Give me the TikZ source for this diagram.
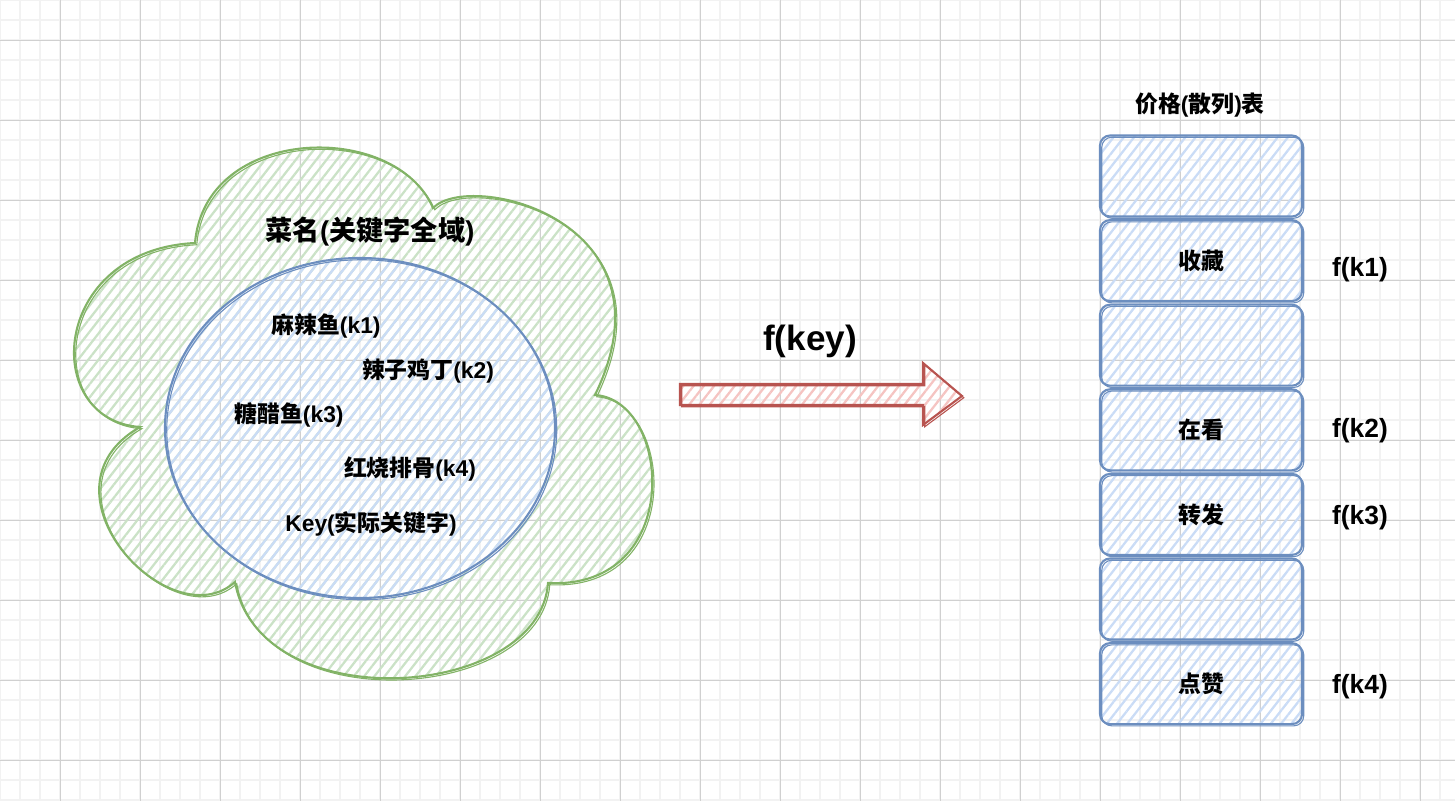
\documentclass[tikz,border=0pt]{standalone}
\usepackage{fontspec}
\setmainfont{Liberation Sans}
\newfontfamily\cjk{Noto Sans CJK SC}
\usepackage{tikz}
\usetikzlibrary{patterns.meta}
\usetikzlibrary{calc}
\definecolor{gline}{HTML}{82B366}
\definecolor{ghatch}{HTML}{CBE2C7}
\definecolor{bline}{HTML}{6C8EBF}
\definecolor{bhatch}{HTML}{CADCF6}
\definecolor{rline}{HTML}{B85450}
\definecolor{rhatch}{HTML}{F5C4C2}
\definecolor{minorgr}{HTML}{F2F2F2}
\definecolor{majorgr}{HTML}{D0D0D0}
\newcommand{\zh}[1]{{\cjk #1}}

\begin{document}
\begin{tikzpicture}[x=0.2mm, y=-0.2mm,
    minorline/.style={minorgr, line width=0.35mm},
    majorline/.style={majorgr, line width=0.18mm},
    hatch/.style={pattern={Lines[angle=52, distance=4.6pt, line width=1.3pt]}, pattern color=#1},
    sketchy/.style={draw=#1, line width=0.42mm,
        postaction={draw=#1, line width=0.22mm, transform canvas={shift={(0.35mm,-0.35mm)}}}},
    cell/.style={hatch=bhatch, sketchy=bline, rounded corners=2mm,
        minimum width=40.4mm, minimum height=16.2mm, inner sep=0pt},
    title/.style={font=\bfseries\fontsize{15.5}{18}\selectfont},
    keytext/.style={font=\bfseries\fontsize{13}{15}\selectfont},
    fk/.style={font=\bfseries\fontsize{15}{18}\selectfont}]
    \useasboundingbox (0,0) rectangle (1455,801);
    % grid
    \foreach \x in {0,20,...,1460} \draw[minorline] (\x,0) -- (\x,801);
    \foreach \y in {0,20,...,800} \draw[minorline] (0,\y) -- (1455,\y);
    \foreach \x in {60,140,...,1420} \draw[majorline] (\x,0) -- (\x,801);
    \foreach \y in {40,120,...,760} \draw[majorline] (0,\y) -- (1455,\y);

    % cloud
    \path[hatch=ghatch, sketchy=gline] (140,427)
        .. controls (40,420) and (50,250) .. (195,243)
        .. controls (205,125) and (395,120) .. (433,208)
        .. controls (470,170) and (680,220) .. (595,395)
        .. controls (672,400) and (685,590) .. (548,583)
        .. controls (540,700) and (260,720) .. (235,582)
        .. controls (170,640) and (30,490) .. (140,427) -- cycle;
    % key set
    \path[hatch=bhatch, sketchy=bline] (360,428) ellipse [x radius=195, y radius=170];

    \node[title] (universe) at (370,232) {\zh{菜名}(\zh{关键字全域})};
    \node[keytext] (k1) at (326,326) {\zh{麻辣鱼}(k1)};
    \node[keytext] (k2) at (428,371) {\zh{辣子鸡丁}(k2)};
    \node[keytext] (k3) at (289,415) {\zh{糖醋鱼}(k3)};
    \node[keytext] (k4) at (410,469) {\zh{红烧排骨}(k4)};
    \node[keytext] (keys) at (371,524) {Key(\zh{实际关键字})};

    % hash function arrow
    \coordinate (from) at (680,394);
    \coordinate (to) at (962,396);
    \path[hatch=rhatch, sketchy=rline] ($(from)+(0,-10)$) -- (923,384) -- (923,363) -- (to)
        -- (923,425) -- (923,405) -- ($(from)+(0,11)$) -- cycle;
    \node[font=\bfseries\fontsize{20}{24}\selectfont] (fkey) at (810,341) {f(key)};

    % hash table
    \node[keytext] (table) at (1200,105) {\zh{价格}(\zh{散列})\zh{表}};
    \foreach \i/\t in {1/{},2/收藏,3/{},4/在看,5/转发,6/{},7/点赞}
        \node[cell, keytext] (c\i) at (1201,{91.4+84.6*\i}) {\zh{\t}};
    \node[fk] (f1) at (1360,270) {f(k1)};
    \node[fk] (f2) at (1360,431) {f(k2)};
    \node[fk] (f3) at (1360,518) {f(k3)};
    \node[fk] (f4) at (1360,687) {f(k4)};
\end{tikzpicture}
\end{document}
